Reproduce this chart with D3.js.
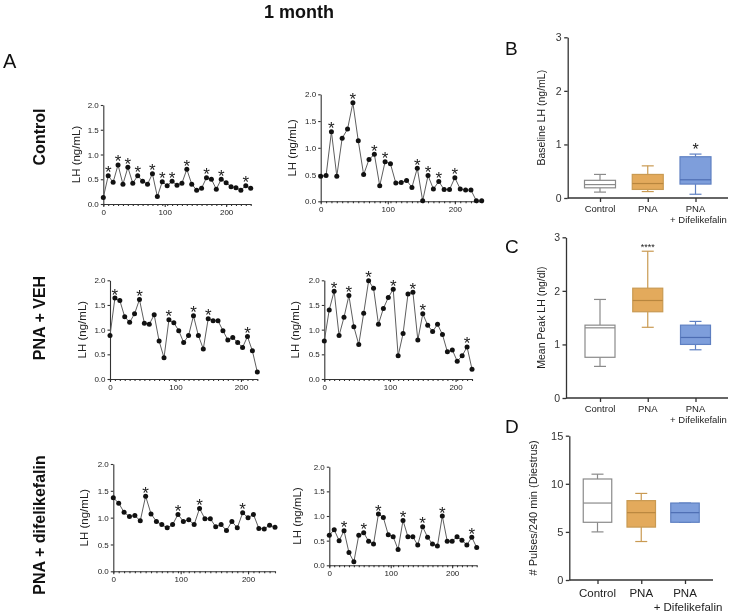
<!DOCTYPE html>
<html><head><meta charset="utf-8">
<script src="https://cdn.jsdelivr.net/npm/d3@7"></script>
<style>
body{margin:0;background:#fff}
svg{display:block;will-change:transform}
text{font-family:"Liberation Sans",Arial,sans-serif}
</style>
</head><body>
<svg id="c" width="732" height="615"></svg>
<script>
// ---------- DATA ----------
const times8 = [0,8,16,24,32,40,48,56,64,72,80,88,96,104,112,120,128,136,144,152,160,168,176,184,192,200,208,216,224,232,240];
const times75 = [0,7.5,15,22.5,30,37.5,45,52.5,60,67.5,75,82.5,90,97.5,105,112.5,120,127.5,135,142.5,150,157.5,165,172.5,180,187.5,195,202.5,210,217.5,225];
const lhTicksX = [0,100,200];
const lhTicksY = [0,0.5,1.0,1.5,2.0];

const controlA = [0.13,0.57,0.44,0.79,0.40,0.74,0.42,0.57,0.46,0.40,0.61,0.15,0.45,0.37,0.46,0.38,0.42,0.70,0.40,0.28,0.32,0.53,0.50,0.30,0.50,0.43,0.35,0.33,0.28,0.37,0.32];
const controlAPeaks = [1,3,5,7,10,12,14,17,21,24,29];
const controlB = [0.47,0.48,1.30,0.47,1.18,1.35,1.84,1.13,0.50,0.78,0.88,0.29,0.74,0.70,0.34,0.35,0.39,0.26,0.62,0.01,0.48,0.23,0.37,0.22,0.22,0.44,0.23,0.21,0.21,0.01,0.01];
const controlBPeaks = [2,6,10,12,18,20,22,25];
const vehA = [0.88,1.64,1.59,1.26,1.15,1.32,1.61,1.13,1.11,1.30,0.77,0.43,1.20,1.14,0.98,0.74,0.88,1.28,0.88,0.61,1.22,1.18,1.18,0.98,0.79,0.84,0.74,0.64,0.86,0.57,0.14];
const vehAPeaks = [1,6,12,17,20,28];
const vehB = [0.77,1.40,1.78,0.88,1.25,1.69,1.06,0.70,1.33,1.99,1.84,1.11,1.43,1.65,1.82,0.47,0.92,1.72,1.76,0.79,1.32,1.09,0.96,1.11,0.90,0.55,0.59,0.36,0.47,0.65,0.20];
const vehBPeaks = [2,5,9,14,18,20,29];
const difA = [1.37,1.27,1.10,1.02,1.04,0.94,1.40,1.07,0.93,0.87,0.81,0.87,1.06,0.93,0.96,0.87,1.17,0.98,0.98,0.83,0.87,0.76,0.93,0.81,1.09,1.00,1.06,0.80,0.79,0.86,0.82];
const difAPeaks = [6,12,16,24];
const difB = [0.61,0.72,0.50,0.70,0.26,0.07,0.61,0.66,0.49,0.43,1.04,0.97,0.62,0.58,0.32,0.91,0.58,0.58,0.41,0.78,0.57,0.43,0.39,1.00,0.49,0.49,0.58,0.51,0.41,0.57,0.36];
const difBPeaks = [3,7,10,15,19,23,29];

const groups = ["Control","PNA","PNA + Difelikefalin"];
const groupLine1 = ["Control","PNA","PNA"];
const groupLine2 = ["","","+ Difelikefalin"];
const groupFill = ["#ffffff","#E3AA5C","#7E9EDB"];
const groupStroke = ["#8a8a8a","#C99A52","#5F80C2"];
const groupMedian = ["#8a8a8a","#B8863E","#4D6DB3"];

const baselineMin = [0.11,0.12,0.07];
const baselineQ1  = [0.19,0.16,0.26];
const baselineMed = [0.25,0.27,0.34];
const baselineQ3  = [0.33,0.44,0.77];
const baselineMax = [0.44,0.60,0.82];
const baselineSig = ["","","*"];

const peakMin = [0.59,1.32,0.90];
const peakQ1  = [0.76,1.61,1.00];
const peakMed = [1.31,1.82,1.13];
const peakQ3  = [1.36,2.05,1.36];
const peakMax = [1.84,2.74,1.43];
const peakSig = ["","****",""];

const pulseMin = [5,4,6];
const pulseQ1  = [6,5.5,6];
const pulseMed = [8,7,7];
const pulseQ3  = [10.5,8.25,8];
const pulseMax = [11,9,8];
const pulseSig = ["","",""];

// ---------- DRAW ----------
const svg = d3.select("#c");
const axisCol = "#333";
const FF = '"Liberation Sans",Arial,sans-serif';

function lhPanel(times, values, peaks, xr, yr, labelX) {
  const x = d3.scaleLinear().domain([0, times[times.length-1]]).range(xr);
  const y = d3.scaleLinear().domain([0, 2]).range(yr);
  const g = svg.append("g");
  const gm = g.append("g").attr("transform", `translate(0,${yr[0]})`)
    .call(d3.axisBottom(x).tickValues(times).tickSize(2).tickSizeOuter(0).tickFormat(""));
  const gx = g.append("g").attr("transform", `translate(0,${yr[0]})`)
    .call(d3.axisBottom(x).tickValues(lhTicksX).tickSize(3).tickSizeOuter(0).tickPadding(2));
  gx.select(".domain").remove();
  const gy = g.append("g").attr("transform", `translate(${xr[0]},0)`)
    .call(d3.axisLeft(y).tickValues(lhTicksY).tickSize(2.5).tickSizeOuter(0).tickPadding(2).tickFormat(d3.format(".1f")));
  [gm, gx, gy].forEach(a => {
    a.selectAll("path,line").attr("stroke", axisCol).attr("stroke-width", 1.1);
    a.selectAll("text").attr("font-size", 8).attr("fill", "#222").style("font-family", FF);
  });
  g.append("path").datum(values)
    .attr("d", d3.line().x((d,i) => x(times[i])).y(d => y(d)))
    .attr("fill", "none").attr("stroke", "#5e5e5e").attr("stroke-width", 1);
  g.selectAll("circle").data(values).join("circle")
    .attr("cx", (d,i) => x(times[i])).attr("cy", d => y(d)).attr("r", 2.5).attr("fill", "#111");
  g.selectAll("text.star").data(peaks).join("text").attr("class","star")
    .attr("x", i => x(times[i])).attr("y", i => y(values[i]) + 2.5)
    .attr("text-anchor", "middle").attr("font-size", 17).attr("fill", "#222").text("*");
  g.append("text")
    .attr("transform", `translate(${labelX},${(yr[0]+yr[1])/2}) rotate(-90)`)
    .attr("text-anchor", "middle").attr("font-size", 11.5).attr("fill", "#222").text("LH (ng/mL)");
}

lhPanel(times8, controlA, controlAPeaks, [103.3, 250.7], [204, 105], 80);
lhPanel(times8, controlB, controlBPeaks, [320.7, 481.7], [201.3, 94.3], 296);
lhPanel(times75, vehA, vehAPeaks, [110, 257.3], [379, 280.3], 86);
lhPanel(times75, vehB, vehBPeaks, [324.3, 472], [379, 280.3], 299);
lhPanel(times8, difA, difAPeaks, [113.3, 275], [571.3, 464], 88);
lhPanel(times8, difB, difBPeaks, [329.3, 476.7], [565.3, 466.7], 301);

function boxPanel(o) {
  const g = svg.append("g");
  const x = d3.scalePoint().domain(groups).range(o.centers);
  const y = d3.scaleLinear().domain(o.yDomain).range(o.yRange);
  const gy = g.append("g").attr("transform", `translate(${o.axisX},0)`)
    .call(d3.axisLeft(y).tickValues(o.yTicks).tickSize(3.5).tickSizeOuter(0).tickPadding(2.5).tickFormat(d3.format("d")));
  gy.selectAll("path,line").attr("stroke", axisCol).attr("stroke-width", 1.3);
  gy.selectAll("text").attr("font-size", o.tickFont).attr("fill", "#333").style("font-family", FF);
  const gx = g.append("g").attr("transform", `translate(0,${o.yRange[0]})`)
    .call(d3.axisBottom(x).tickSize(4).tickSizeOuter(0).tickFormat(""));
  gx.select(".domain").attr("d", `M${o.axisX},0H${o.axisEnd}`);
  gx.selectAll("path,line").attr("stroke", axisCol).attr("stroke-width", 1.3);
  groups.forEach((gname, i) => {
    const cx = x(gname), hw = o.boxW / 2, cw = 6;
    const col = groupStroke[i];
    g.append("line").attr("x1", cx).attr("x2", cx).attr("y1", y(o.max[i])).attr("y2", y(o.q3[i])).attr("stroke", col).attr("stroke-width", 1.2);
    g.append("line").attr("x1", cx).attr("x2", cx).attr("y1", y(o.q1[i])).attr("y2", y(o.min[i])).attr("stroke", col).attr("stroke-width", 1.2);
    g.append("line").attr("x1", cx-cw).attr("x2", cx+cw).attr("y1", y(o.max[i])).attr("y2", y(o.max[i])).attr("stroke", col).attr("stroke-width", 1.2);
    g.append("line").attr("x1", cx-cw).attr("x2", cx+cw).attr("y1", y(o.min[i])).attr("y2", y(o.min[i])).attr("stroke", col).attr("stroke-width", 1.2);
    g.append("rect").attr("x", cx-hw).attr("width", o.boxW)
      .attr("y", y(o.q3[i])).attr("height", Math.max(0.5, y(o.q1[i]) - y(o.q3[i])))
      .attr("fill", groupFill[i]).attr("stroke", col).attr("stroke-width", 1.2);
    g.append("line").attr("x1", cx-hw).attr("x2", cx+hw).attr("y1", y(o.med[i])).attr("y2", y(o.med[i])).attr("stroke", groupMedian[i]).attr("stroke-width", 1.2);
    if (o.sig[i]) {
      g.append("text").attr("x", cx).attr("y", y(o.max[i]) - o.sigOff).attr("text-anchor", "middle")
        .attr("font-size", o.sigFont).attr("fill", "#222").text(o.sig[i]);
    }
    g.append("text").attr("x", cx).attr("y", o.lab1Y).attr("text-anchor", "middle")
      .attr("font-size", o.labFont).attr("fill", "#222").text(groupLine1[i]);
    if (groupLine2[i]) g.append("text").attr("x", cx + 3).attr("y", o.lab2Y).attr("text-anchor", "middle")
      .attr("font-size", o.labFont).attr("fill", "#222").text(groupLine2[i]);
  });
  g.append("text").attr("transform", `translate(${o.labelX},${(o.yRange[0]+o.yRange[1])/2}) rotate(-90)`)
    .attr("text-anchor", "middle").attr("font-size", o.labelFont).attr("fill", "#222").text(o.yLabel);
}

boxPanel({centers:[600,695.5], axisX:567.7, axisEnd:728, yDomain:[0,3], yRange:[198,37.3], yTicks:[0,1,2,3],
  min:baselineMin, q1:baselineQ1, med:baselineMed, q3:baselineQ3, max:baselineMax, sig:baselineSig,
  boxW:31, tickFont:10.5, labFont:9.5, lab1Y:211.5, lab2Y:223, yLabel:"Baseline LH (ng/mL)", labelX:545, labelFont:10.5, sigOff:-1, sigFont:16});
boxPanel({centers:[600,695.5], axisX:566, axisEnd:728, yDomain:[0,3], yRange:[398,237.3], yTicks:[0,1,2,3],
  min:peakMin, q1:peakQ1, med:peakMed, q3:peakQ3, max:peakMax, sig:peakSig,
  boxW:30, tickFont:10.5, labFont:9.5, lab1Y:411.5, lab2Y:423, yLabel:"Mean Peak LH (ng/dl)", labelX:545, labelFont:10.5, sigOff:1, sigFont:9});
boxPanel({centers:[597.5,685], axisX:569.3, axisEnd:713, yDomain:[0,15], yRange:[580,435.7], yTicks:[0,5,10,15],
  min:pulseMin, q1:pulseQ1, med:pulseMed, q3:pulseQ3, max:pulseMax, sig:pulseSig,
  boxW:28.5, tickFont:11, labFont:11.5, lab1Y:597, lab2Y:611, yLabel:"# Pulses/240 min (Diestrus)", labelX:537, labelFont:11, sigOff:3, sigFont:12});

svg.append("text").attr("x", 299).attr("y", 18).attr("text-anchor", "middle").attr("font-size", 18).attr("font-weight", "bold").attr("fill", "#111").text("1 month");
svg.append("text").attr("x", 3).attr("y", 68).attr("font-size", 20).attr("fill", "#111").text("A");
svg.append("text").attr("x", 505).attr("y", 55).attr("font-size", 19).attr("fill", "#111").text("B");
svg.append("text").attr("x", 505).attr("y", 253).attr("font-size", 19).attr("fill", "#111").text("C");
svg.append("text").attr("x", 505).attr("y", 433).attr("font-size", 19).attr("fill", "#111").text("D");

const rowLabels = ["Control","PNA + VEH","PNA + difelikefalin"];
const rowCenters = [137, 318, 525];
rowLabels.forEach((t, i) => {
  svg.append("text").attr("transform", `translate(45,${rowCenters[i]}) rotate(-90)`)
    .attr("text-anchor", "middle").attr("font-size", 16).attr("font-weight", "bold").attr("fill", "#111").text(t);
});
</script>
</body></html>
